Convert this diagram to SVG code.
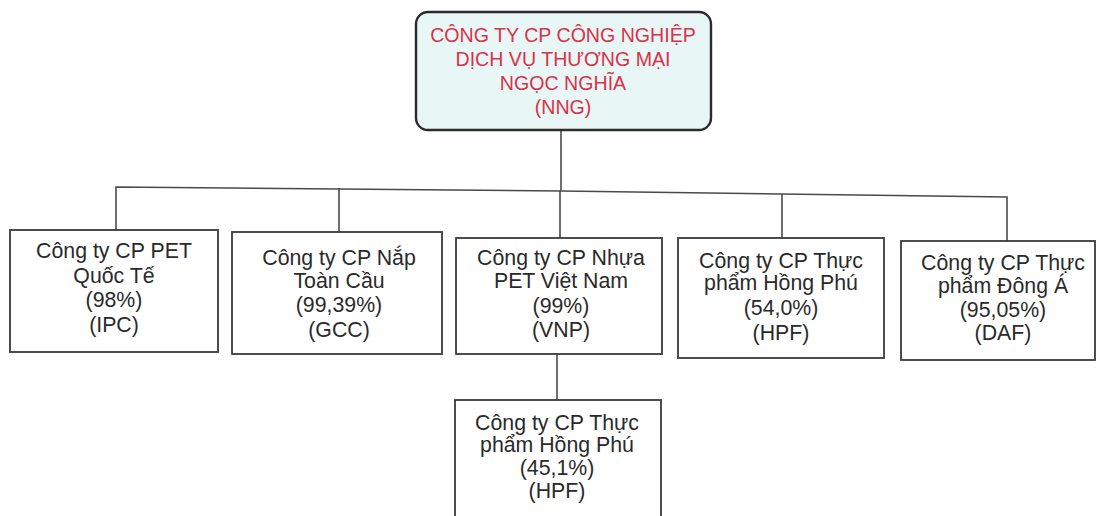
<svg xmlns="http://www.w3.org/2000/svg" width="1097" height="516" viewBox="0 0 1097 516">
<style>
.box{fill:#ffffff;stroke:#3a3a3a;stroke-width:1.8}
.root{fill:#e8f6f6;stroke:#2a2a2a;stroke-width:2.4}
.t{font-family:"Liberation Sans",Arial,sans-serif;font-size:21.3px;fill:#2a2a2a;text-anchor:middle}
.rt{font-family:"Liberation Sans",Arial,sans-serif;font-size:19.6px;fill:#d8324a;text-anchor:middle}
.ln{fill:none;stroke:#4a4a4a;stroke-width:1.6}
</style>
<rect width="1097" height="516" fill="#ffffff"/>
<g id="connectors">
<line class="ln" x1="561" y1="130" x2="561" y2="191"/>
<polyline class="ln" points="116,230 116,187 561,191 1007,197 1007,241"/>
<line class="ln" x1="339" y1="188" x2="339" y2="232"/>
<line class="ln" x1="560" y1="191" x2="560" y2="238"/>
<line class="ln" x1="782" y1="194" x2="782" y2="238"/>
<line class="ln" x1="557" y1="354" x2="557" y2="400"/>
</g>
<g id="nng">
<rect class="root" x="416" y="12" width="295" height="118" rx="12"/>
<text class="rt" x="563" y="42">CÔNG TY CP CÔNG NGHIỆP</text>
<text class="rt" x="563" y="66">DỊCH VỤ THƯƠNG MẠI</text>
<text class="rt" x="563" y="90">NGỌC NGHĨA</text>
<text class="rt" x="563" y="114">(NNG)</text>
</g>
<g id="ipc">
<rect class="box" x="10" y="230" width="208" height="122"/>
<text class="t" x="114" y="258">Công ty CP PET</text>
<text class="t" x="114" y="283">Quốc Tế</text>
<text class="t" x="114" y="307">(98%)</text>
<text class="t" x="114" y="332">(IPC)</text>
</g>
<g id="gcc">
<rect class="box" x="232" y="232" width="210" height="122"/>
<text class="t" x="339" y="265">Công ty CP Nắp</text>
<text class="t" x="339" y="288">Toàn Cầu</text>
<text class="t" x="339" y="312">(99,39%)</text>
<text class="t" x="339" y="337">(GCC)</text>
</g>
<g id="vnp">
<rect class="box" x="456" y="238" width="206" height="116"/>
<text class="t" x="561" y="265">Công ty CP Nhựa</text>
<text class="t" x="561" y="288">PET Việt Nam</text>
<text class="t" x="561" y="313">(99%)</text>
<text class="t" x="561" y="337">(VNP)</text>
</g>
<g id="hpf1">
<rect class="box" x="678" y="238" width="206" height="120"/>
<text class="t" x="781" y="268">Công ty CP Thực</text>
<text class="t" x="781" y="290">phẩm Hồng Phú</text>
<text class="t" x="781" y="315">(54,0%)</text>
<text class="t" x="781" y="340">(HPF)</text>
</g>
<g id="daf">
<rect class="box" x="901" y="241" width="194" height="119"/>
<text class="t" x="1003" y="270">Công ty CP Thực</text>
<text class="t" x="1003" y="293">phẩm Đông Á</text>
<text class="t" x="1003" y="317">(95,05%)</text>
<text class="t" x="1003" y="340">(DAF)</text>
</g>
<g id="hpf2">
<rect class="box" x="455" y="400" width="206" height="125"/>
<text class="t" x="557" y="430">Công ty CP Thực</text>
<text class="t" x="557" y="452">phẩm Hồng Phú</text>
<text class="t" x="557" y="475">(45,1%)</text>
<text class="t" x="557" y="498">(HPF)</text>
</g>
</svg>
